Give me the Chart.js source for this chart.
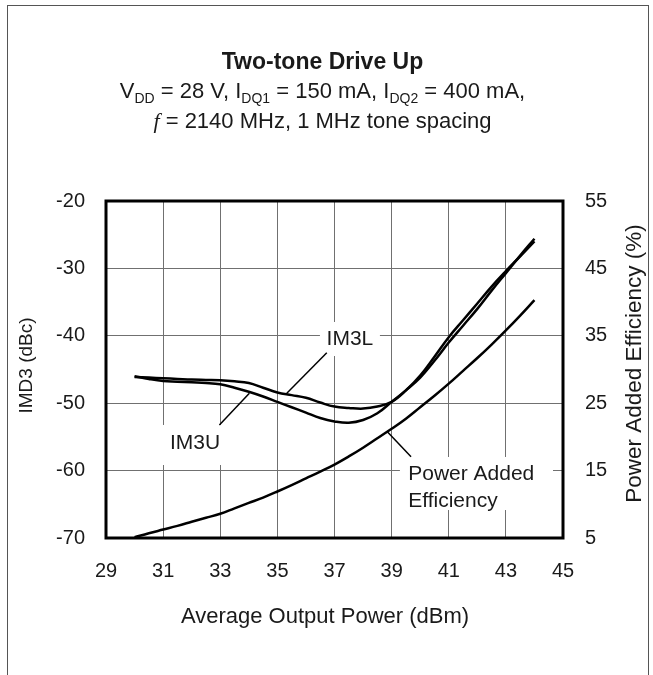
<!DOCTYPE html>
<html>
<head>
<meta charset="utf-8">
<title>Two-tone Drive Up</title>
<script src="https://cdn.jsdelivr.net/npm/chart.js@4.4.1/dist/chart.umd.min.js"></script>
<style>
  html, body { margin: 0; padding: 0; background: #fff; }
  body { width: 653px; height: 675px; position: relative; overflow: hidden;
         font-family: "Liberation Sans", Arial, sans-serif; color: #1a1a1a; }
  #frame { position: absolute; left: 7px; top: 5px; width: 640px; height: 700px;
           border: 1px solid #555; border-bottom: none; }
  #chart { position: absolute; left: 0; top: 0; }
  .head { position: absolute; left: -4px; width: 653px; text-align: center; white-space: nowrap; }
  #title { top: 50px; font-size: 23px; line-height: 23px; font-weight: bold; }
  #sub1 { top: 80px; font-size: 22px; line-height: 22px; }
  #sub2 { top: 110px; font-size: 22px; line-height: 22px; }
  .sub { font-size: 14px; position: relative; top: 5px; }
  .fn { font-family: "Liberation Serif", "Times New Roman", serif; font-style: italic; }
</style>
</head>
<body>
<div id="frame"></div>
<canvas id="chart" width="653" height="675"></canvas>
<div class="head" id="title">Two-tone Drive Up</div>
<div class="head" id="sub1">V<span class="sub">DD</span> = 28 V, I<span class="sub">DQ1</span> = 150 mA, I<span class="sub">DQ2</span> = 400 mA,</div>
<div class="head" id="sub2"><span class="fn">f</span> = 2140 MHz, 1 MHz tone spacing</div>
<script>
// average output power (dBm)
const pout = [30, 30.5, 31, 31.5, 32, 32.5, 33, 33.5, 34, 34.5, 35, 35.5, 36, 36.5, 37,
              37.5, 38, 38.5, 39, 39.5, 40, 40.5, 41, 41.5, 42, 42.5, 43, 43.5, 44];
// IMD3 (dBc), lower and upper products
const im3l = [-46.1, -46.2, -46.3, -46.4, -46.5, -46.55, -46.6, -46.75, -47.0, -47.7, -48.4, -48.8, -49.2, -49.9, -50.5,
              -50.7, -50.8, -50.5, -49.8, -48.1, -45.9, -43.1, -40.2, -37.7, -35.2, -32.7, -30.4, -28.2, -26.0];
const im3u = [-46.0, -46.4, -46.7, -46.8, -46.9, -47.0, -47.2, -47.7, -48.3, -49.0, -49.8, -50.6, -51.4, -52.2, -52.7,
              -52.9, -52.5, -51.5, -49.8, -48.1, -46.2, -43.7, -41.0, -38.5, -36.0, -33.3, -30.7, -28.1, -25.6];
// power added efficiency (%)
const pae = [5.1, 5.7, 6.25, 6.8, 7.4, 8.0, 8.6, 9.4, 10.2, 11.0, 11.9, 12.85, 13.85, 14.85, 15.9,
             17.1, 18.4, 19.8, 21.2, 22.7, 24.4, 26.1, 27.9, 29.8, 31.7, 33.7, 35.8, 38.0, 40.3];

// tick labels
const xTicks = [29, 31, 33, 35, 37, 39, 41, 43, 45];
const imdTicks = [-70, -60, -50, -40, -30, -20];
const paeTicks = [5, 15, 25, 35, 45, 55];

const FONT = '"Liberation Sans", Arial, sans-serif';
const INK = '#1a1a1a';
const GRID = '#707070';

// callout labels in data units (x in dBm, y on the IMD3 axis)
const callouts = [
    { lines: ['IM3L'], at: [37.54, -40.47], align: 'center',
      box: [36.49, -37.95, 38.59, -43.0], leader: [36.73, -42.51, 35.33, -48.53] },
    { lines: ['IM3U'], at: [32.12, -55.9], align: 'center',
      box: [30.89, -53.23, 33.2, -59.17], leader: [32.97, -53.23, 34.02, -48.53] },
    { lines: ['Power Added', 'Efficiency'], at: [39.58, -60.5], align: 'left',
      box: [39.29, -57.98, 44.65, -65.85], leader: [38.85, -54.23, 39.68, -57.94] }
];

function toPoints(ys) {
    return pout.map((x, i) => ({ x: x, y: ys[i] }));
}

const decorations = {
    id: 'decorations',
    beforeDatasetsDraw(chart) {
        const ctx = chart.ctx;
        const sx = chart.scales.x;
        const sy = chart.scales.y;
        ctx.save();
        callouts.forEach(c => {
            // white box hides the grid behind the label
            const x0 = sx.getPixelForValue(c.box[0]);
            const y0 = sy.getPixelForValue(c.box[1]);
            const x1 = sx.getPixelForValue(c.box[2]);
            const y1 = sy.getPixelForValue(c.box[3]);
            ctx.fillStyle = '#fff';
            ctx.fillRect(x0, y0, x1 - x0, y1 - y0);

            ctx.strokeStyle = '#000';
            ctx.lineWidth = 1.5;
            ctx.beginPath();
            ctx.moveTo(sx.getPixelForValue(c.leader[0]), sy.getPixelForValue(c.leader[1]));
            ctx.lineTo(sx.getPixelForValue(c.leader[2]), sy.getPixelForValue(c.leader[3]));
            ctx.stroke();

            ctx.fillStyle = INK;
            ctx.font = '21px ' + FONT;
            ctx.textAlign = c.align;
            ctx.textBaseline = 'middle';
            const tx = sx.getPixelForValue(c.at[0]);
            const ty = sy.getPixelForValue(c.at[1]);
            c.lines.forEach((line, i) => ctx.fillText(line, tx, ty + i * 27));
        });
        ctx.restore();
    },
    afterDatasetsDraw(chart) {
        const ctx = chart.ctx;
        const a = chart.chartArea;
        ctx.save();
        ctx.strokeStyle = '#000';
        ctx.lineWidth = 3;
        ctx.strokeRect(a.left, a.top, a.right - a.left, a.bottom - a.top);

        // axis titles
        ctx.fillStyle = INK;
        ctx.textAlign = 'center';
        ctx.textBaseline = 'middle';
        ctx.font = '22px ' + FONT;
        ctx.fillText('Average Output Power (dBm)', 325, a.bottom + 78.5);

        ctx.save();
        ctx.translate(26.7, (a.top + a.bottom) / 2 - 4);
        ctx.rotate(-Math.PI / 2);
        ctx.font = '19px ' + FONT;
        ctx.fillText('IMD3 (dBc)', 0, 0);
        ctx.restore();

        ctx.save();
        ctx.translate(634.5, (a.top + a.bottom) / 2 - 6);
        ctx.rotate(-Math.PI / 2);
        ctx.font = '22.5px ' + FONT;
        ctx.fillText('Power Added Efficiency (%)', 0, 0);
        ctx.restore();
        ctx.restore();
    }
};

function curve(label, ys, axis) {
    return {
        label: label,
        data: toPoints(ys),
        yAxisID: axis,
        borderColor: '#000',
        borderWidth: 2.5,
        borderJoinStyle: 'round',
        pointRadius: 0,
        fill: false,
        tension: 0.4
    };
}

new Chart(document.getElementById('chart'), {
    type: 'line',
    data: {
        datasets: [
            curve('IM3L', im3l, 'y'),
            curve('IM3U', im3u, 'y'),
            curve('Power Added Efficiency', pae, 'y1')
        ]
    },
    options: {
        responsive: false,
        animation: false,
        devicePixelRatio: 1,
        layout: { padding: { top: 201, left: 0, right: 0, bottom: 0 } },
        plugins: {
            legend: { display: false },
            tooltip: { enabled: false }
        },
        scales: {
            x: {
                type: 'linear',
                min: xTicks[0],
                max: xTicks[xTicks.length - 1],
                afterFit: s => { s.height = 137; },
                ticks: {
                    stepSize: xTicks[1] - xTicks[0],
                    padding: 21,
                    color: INK,
                    font: { family: FONT, size: 20 }
                },
                grid: { color: GRID, lineWidth: 1, drawTicks: false },
                border: { display: false }
            },
            y: {
                position: 'left',
                min: imdTicks[0],
                max: imdTicks[imdTicks.length - 1],
                afterFit: s => { s.width = 106; },
                ticks: {
                    stepSize: imdTicks[1] - imdTicks[0],
                    padding: 21,
                    color: INK,
                    font: { family: FONT, size: 20 }
                },
                grid: { color: GRID, lineWidth: 1, drawTicks: false },
                border: { display: false }
            },
            y1: {
                position: 'right',
                min: paeTicks[0],
                max: paeTicks[paeTicks.length - 1],
                afterFit: s => { s.width = 90; },
                ticks: {
                    stepSize: paeTicks[1] - paeTicks[0],
                    padding: 22,
                    color: INK,
                    font: { family: FONT, size: 20 }
                },
                grid: { drawOnChartArea: false, drawTicks: false },
                border: { display: false }
            }
        }
    },
    plugins: [decorations]
});
</script>
</body>
</html>
